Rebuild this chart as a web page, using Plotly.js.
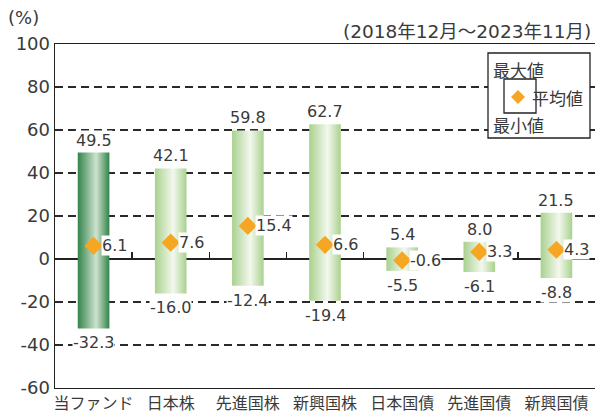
<!DOCTYPE html>
<html><head><meta charset="utf-8">
<script src="https://cdn.plot.ly/plotly-3.0.1.min.js"></script>
<style>body{margin:0;background:#fff}#c{width:595px;height:419px}</style>
</head><body><div id="c"></div>
<script>
const categories = ["当ファンド","日本株","先進国株","新興国株","日本国債","先進国債","新興国債"];
const maxVals = [49.5, 42.1, 59.8, 62.7, 5.4, 8.0, 21.5];
const minVals = [-32.3, -16.0, -12.4, -19.4, -5.5, -6.1, -8.8];
const avgVals = [6.1, 7.6, 15.4, 6.6, -0.6, 3.3, 4.3];
const yTicks = [-60, -40, -20, 0, 20, 40, 60, 80, 100];

const FONT = '"DejaVu Sans", "Noto Sans CJK JP", sans-serif';
const CJK = '"Noto Sans CJK JP", sans-serif';
const TXT = '#3a3a3a';
const hw = 0.205;
const idx = categories.map((c,i)=>i);
const traces = [];
categories.forEach((c,i)=>{
  const dark = i===0;
  const edge = dark ? '#33834b' : '#a9d18e';
  const mid = dark ? '#cfe3cf' : '#f3f8ee';
  traces.push({
    type:'scatter', mode:'lines', fill:'toself',
    x:[i-hw,i+hw,i+hw,i-hw,i-hw],
    y:[minVals[i],minVals[i],maxVals[i],maxVals[i],minVals[i]],
    line:{width:0,color:'rgba(0,0,0,0)'},
    fillcolor: edge,
    fillgradient:{type:'horizontal',colorscale:[[0,edge],[0.58,mid],[1,edge]]},
    hoverinfo:'skip', showlegend:false
  });
});
traces.push({type:'scatter',mode:'markers',x:idx,y:avgVals,
  marker:{symbol:'diamond',size:14,color:'#f6a623'},showlegend:false,hoverinfo:'skip'});
// invisible trace for the zero-line tick axis
traces.push({type:'scatter',mode:'markers',x:[0],y:[0],xaxis:'x2',yaxis:'y',marker:{opacity:0},showlegend:false,hoverinfo:'skip'});

const X0=55, PW=540, Y0=44, PH=344;
const px = v => (v-X0)/PW;
const py = v => (Y0+PH-v)/PH;

const lblFont = {family:FONT,size:16,color:TXT};
const valueAnns = [];
idx.forEach(i=>{
  valueAnns.push({x:i,y:maxVals[i],xref:'x',yref:'y',text:maxVals[i].toFixed(1),showarrow:false,
    xanchor:'center',yanchor:'bottom',yshift:2,font:lblFont,bgcolor:'#fff',borderpad:0});
  valueAnns.push({x:i,y:minVals[i],xref:'x',yref:'y',text:minVals[i].toFixed(1),showarrow:false,
    xanchor:'center',yanchor:'top',yshift:-4,font:lblFont,bgcolor:'#fff',borderpad:0});
  valueAnns.push({x:i,y:avgVals[i],xref:'x',yref:'y',text:avgVals[i].toFixed(1),showarrow:false,
    xanchor:'left',yanchor:'middle',xshift:7,font:lblFont,bgcolor:'#fff',borderpad:0});
});

const layout = {
  width:595, height:419,
  margin:{l:55,r:0,t:44,b:31},
  paper_bgcolor:'#fff', plot_bgcolor:'#fff',
  font:{family:FONT,color:TXT},
  xaxis:{range:[-0.5,6.5],tickmode:'array',tickvals:idx,ticktext:categories,
    tickfont:{family:CJK,size:16,color:TXT},showgrid:false,zeroline:false,
    showline:true,linecolor:'#222',linewidth:1.4,mirror:true,ticks:'',fixedrange:true},
  xaxis2:{overlaying:'x',anchor:'free',position:(0-(-60))/160,side:'bottom',range:[-0.5,6.5],
    tickmode:'array',tickvals:idx.slice(1).map(i=>i-0.5),ticktext:idx.slice(1).map(()=>''),showticklabels:false,
    ticks:'inside',ticklen:7,tickcolor:'#222',tickwidth:1.3,showline:false,showgrid:false,zeroline:false},
  yaxis:{range:[-60,100],tickmode:'array',tickvals:yTicks,ticktext:yTicks.map(String),
    tickfont:{family:FONT,size:18,color:TXT},showline:true,linecolor:'#222',linewidth:1.4,
    showgrid:true,gridcolor:'#2a2a2a',gridwidth:1.4,griddash:'8px,5px',
    zeroline:true,zerolinecolor:'#222',zerolinewidth:1.4,ticks:'',fixedrange:true},
  shapes:[
    {type:'rect',xref:'paper',yref:'paper',x0:px(488),x1:px(590),y0:py(138),y1:py(53),
      line:{color:'#222',width:1.3},fillcolor:'#fff',layer:'above'},
    {type:'rect',xref:'paper',yref:'paper',x0:px(504),x1:px(536),y0:py(113),y1:py(79),
      line:{color:'#222',width:1.3},fillcolor:'#fff',layer:'above'},
    {type:'path',xref:'paper',yref:'paper',layer:'above',line:{width:0},fillcolor:'#f6a623',
      path:`M ${px(511)} ${py(97)} L ${px(518)} ${py(90)} L ${px(525)} ${py(97)} L ${px(518)} ${py(104)} Z`}
  ],
  annotations:valueAnns.concat([
    {xref:'paper',yref:'paper',x:px(6),y:py(17),xanchor:'left',yanchor:'middle',text:'(%)',showarrow:false,
      font:{family:FONT,size:18,color:TXT}},
    {xref:'paper',yref:'paper',x:px(593),y:py(32),xanchor:'right',yanchor:'middle',text:'(2018年12月～2023年11月)',showarrow:false,
      font:{family:FONT,size:18.5,color:TXT}},
    {xref:'paper',yref:'paper',x:px(491),y:py(69),xanchor:'left',yanchor:'middle',text:'最大値',showarrow:false,
      font:{family:CJK,size:17,color:TXT}},
    {xref:'paper',yref:'paper',x:px(530),y:py(97),xanchor:'left',yanchor:'middle',text:'平均値',showarrow:false,
      font:{family:CJK,size:17,color:TXT}},
    {xref:'paper',yref:'paper',x:px(491),y:py(125),xanchor:'left',yanchor:'middle',text:'最小値',showarrow:false,
      font:{family:CJK,size:17,color:TXT}}
  ])
};
Plotly.newPlot('c',traces,layout,{displayModeBar:false,staticPlot:true});
</script></body></html>
